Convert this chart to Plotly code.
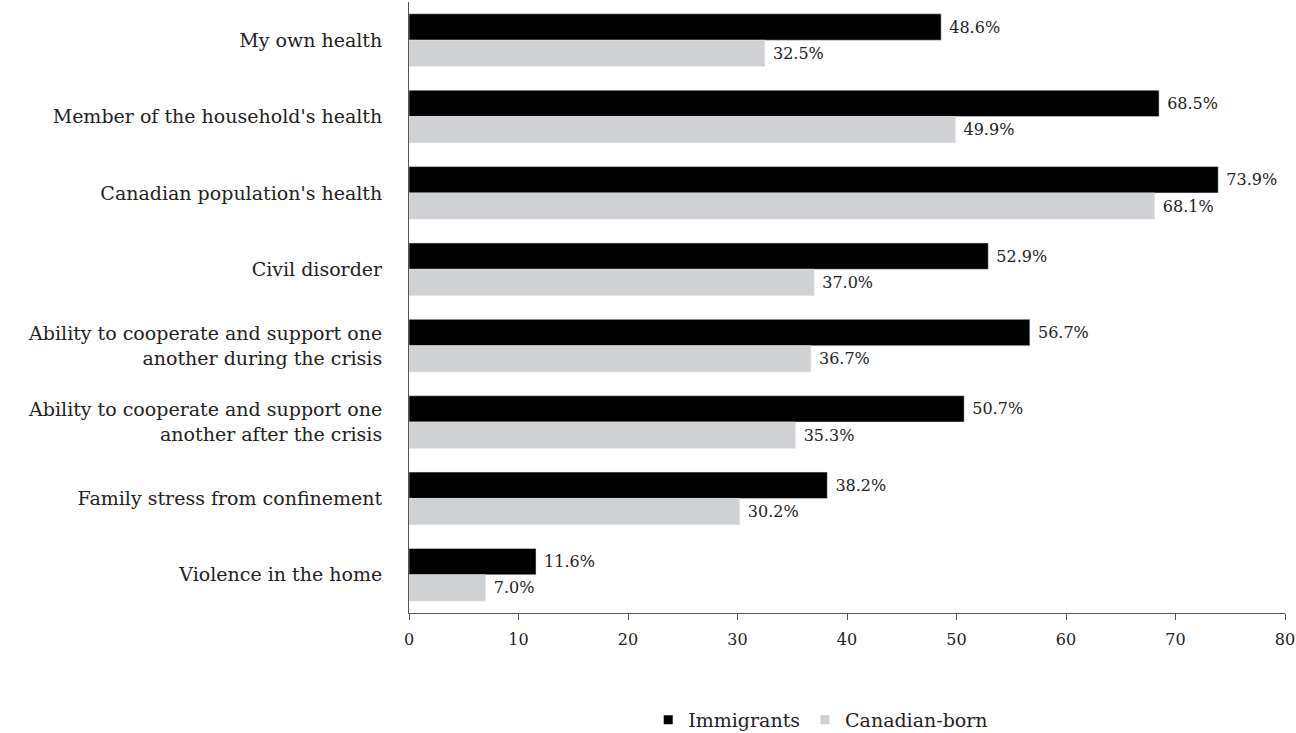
import plotly.graph_objects as go

categories = [
    "My own health",
    "Member of the household's health",
    "Canadian population's health",
    "Civil disorder",
    "Ability to cooperate and support one<br>another during the crisis",
    "Ability to cooperate and support one<br>another after the crisis",
    "Family stress from confinement",
    "Violence in the home",
]
immigrants = [48.6, 68.5, 73.9, 52.9, 56.7, 50.7, 38.2, 11.6]
canadian_born = [32.5, 49.9, 68.1, 37.0, 36.7, 35.3, 30.2, 7.0]
tick_vals = [0, 10, 20, 30, 40, 50, 60, 70, 80]

FONT = "DejaVu Serif"
BLACK = "#000000"
GREY = "#d0d1d3"
TXT = "#222222"

fig = go.Figure()
for name, vals, col in [("Immigrants", immigrants, BLACK), ("Canadian-born", canadian_born, GREY)]:
    fig.add_trace(go.Bar(
        y=categories, x=vals, orientation="h", name=name,
        marker=dict(color=col), showlegend=False,
        text=[f"\u00a0{v:.1f}%" for v in vals], textposition="outside",
        textfont=dict(family=FONT, size=16, color=TXT), cliponaxis=False,
    ))
# legend entries with small square swatches
for name, col in [("Immigrants", BLACK), ("Canadian-born", GREY)]:
    fig.add_trace(go.Scatter(
        x=[None], y=[None], mode="markers", name=name,
        marker=dict(symbol="square", size=9, color=col), showlegend=True,
    ))

fig.update_layout(
    width=1296, height=733,
    margin=dict(l=409, r=11, t=2, b=120, autoexpand=False),
    barmode="group", bargap=0.31, bargroupgap=0,
    plot_bgcolor="white", paper_bgcolor="white",
    font=dict(family=FONT, size=19, color=TXT),
    showlegend=True,
    legend=dict(orientation="h", x=0.47, xanchor="center", xref="paper",
                y=0.018, yanchor="middle", yref="container",
                font=dict(family=FONT, size=19, color=TXT), itemwidth=30,
                traceorder="normal"),
)
fig.update_xaxes(
    range=[0, 80], tickvals=tick_vals, ticks="outside", ticklen=6, tickcolor="#555555",
    showline=True, linecolor="#555555", linewidth=1, showgrid=False, zeroline=False,
    tickfont=dict(family=FONT, size=16, color=TXT), ticklabeloverflow="allow",
    ticklabelstandoff=6, automargin=False,
)
fig.update_yaxes(
    autorange="reversed", showline=True, linecolor="#555555", linewidth=1,
    showgrid=False, ticks="", tickfont=dict(family=FONT, size=19, color=TXT),
    ticklabelstandoff=22, automargin=False,
)
fig.write_html("out.html")
